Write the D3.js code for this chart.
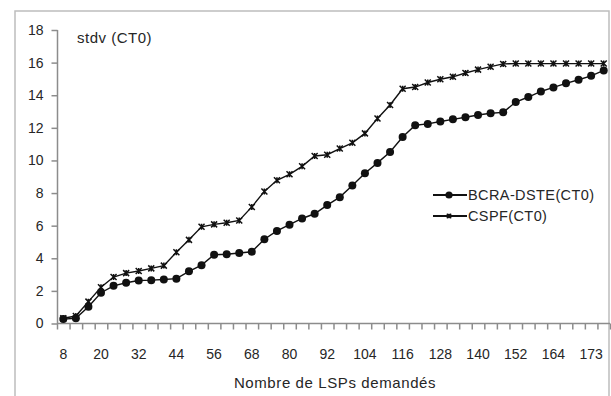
<!DOCTYPE html>
<html>
<head>
<meta charset="utf-8">
<script src="https://cdn.jsdelivr.net/npm/d3@7"></script>
<style>
  html, body { margin: 0; padding: 0; background: #fff; }
  svg { display: block; font-family: "Liberation Sans", Arial, sans-serif; }
</style>
</head>
<body>
<svg id="chart" width="611" height="396"></svg>
<script>
// Number of requested LSPs (category axis)
const categories = [
  "8","12","16","20","24","28","32","36","40","44","48","52","56","60","64",
  "68","72","76","80","84","88","92","96","100","104","108","112","116","120",
  "124","128","132","136","140","144","148","152","156","160","164","168","170",
  "173","176"
];

// Standard deviation, class type CT0
const bcraValues = [
  0.27, 0.32, 1.03, 1.89, 2.31, 2.50, 2.64, 2.66, 2.70, 2.75, 3.20, 3.58, 4.22, 4.25, 4.32,
  4.40, 5.17, 5.68, 6.06, 6.44, 6.73, 7.26, 7.75, 8.46, 9.22, 9.85, 10.52, 11.44, 12.16,
  12.24, 12.39, 12.52, 12.65, 12.79, 12.89, 12.95, 13.58, 13.89, 14.23, 14.48, 14.73, 14.95,
  15.19, 15.52
];
const cspfValues = [
  0.32, 0.46, 1.34, 2.22, 2.85, 3.09, 3.22, 3.38, 3.55, 4.37, 5.13, 5.93, 6.08, 6.18, 6.32,
  7.15, 8.10, 8.78, 9.15, 9.64, 10.27, 10.35, 10.73, 11.08, 11.66, 12.57, 13.40, 14.40, 14.50,
  14.78, 14.98, 15.13, 15.36, 15.57, 15.75, 15.92, 15.94, 15.94, 15.94, 15.94, 15.94, 15.94,
  15.94, 15.94
];

const yTicks = [0, 2, 4, 6, 8, 10, 12, 14, 16, 18];
const seriesNames = ["BCRA-DSTE(CT0)", "CSPF(CT0)"];
const yTitle = "stdv (CT0)";
const xTitle = "Nombre de LSPs demandés";

const svg = d3.select("#chart");
const axisColor = "#8c8c8c";
const inkColor = "#111";
const textColor = "#262626";

// outer chart frame
svg.append("rect")
  .attr("x", 15).attr("y", 11)
  .attr("width", 594).attr("height", 400)
  .attr("fill", "none")
  .attr("stroke", "#bdbdbd")
  .attr("stroke-width", 1.5);

const x = d3.scaleBand().domain(categories).range([57, 610]).padding(0);
const y = d3.scaleLinear().domain([0, 18]).range([323.5, 30]);
const cx = d => x(d) + x.bandwidth() / 2;

// y axis
const yAxis = svg.append("g")
  .attr("transform", "translate(57.5,0)")
  .call(d3.axisLeft(y).tickValues(yTicks).tickSize(6).tickPadding(8).tickFormat(d3.format("d")));
yAxis.select(".domain").attr("stroke", axisColor).attr("stroke-width", 1.5).attr("d", `M0,${y(18)}V${y(0)}`);
yAxis.selectAll(".tick line").attr("stroke", axisColor).attr("stroke-width", 1.5);
yAxis.selectAll(".tick text").attr("fill", textColor).style("font-size", "14px");

// x axis: tick marks sit on category boundaries, labels on every third category
const xAxis = svg.append("g").attr("transform", `translate(0,${y(0)})`);
xAxis.append("line")
  .attr("x1", 57).attr("x2", 610)
  .attr("stroke", axisColor).attr("stroke-width", 1.5);
xAxis.selectAll("line.tk")
  .data(categories.concat([null]))
  .join("line")
  .attr("class", "tk")
  .attr("x1", (d, i) => 57 + i * x.bandwidth() + 0.5)
  .attr("x2", (d, i) => 57 + i * x.bandwidth() + 0.5)
  .attr("y1", 0).attr("y2", 6)
  .attr("stroke", axisColor).attr("stroke-width", 1.5);
xAxis.selectAll("text")
  .data(categories.filter((d, i) => i % 3 === 0))
  .join("text")
  .attr("x", d => cx(d))
  .attr("y", 35)
  .attr("text-anchor", "middle")
  .attr("fill", textColor)
  .style("font-size", "14px")
  .text(d => d);

// titles
svg.append("text")
  .attr("x", 77).attr("y", 43)
  .attr("fill", textColor)
  .style("font-size", "15px")
  .style("letter-spacing", "0.5px")
  .text(yTitle);
svg.append("text")
  .attr("x", 335).attr("y", 388)
  .attr("text-anchor", "middle")
  .attr("fill", textColor)
  .style("font-size", "15px")
  .style("letter-spacing", "0.6px")
  .text(xTitle);

// star marker (x with a vertical bar)
function starPath(px, py, r) {
  return `M${px - r},${py - r}L${px + r},${py + r}M${px - r},${py + r}L${px + r},${py - r}M${px},${py - r}L${px},${py + r}`;
}

const line = d3.line().x((d, i) => cx(categories[i])).y(d => y(d));

// CSPF series
svg.append("path")
  .datum(cspfValues)
  .attr("d", line)
  .attr("fill", "none").attr("stroke", inkColor).attr("stroke-width", 1.4);
svg.append("g").selectAll("path")
  .data(cspfValues)
  .join("path")
  .attr("d", (d, i) => starPath(cx(categories[i]), y(d), 3))
  .attr("stroke", inkColor).attr("stroke-width", 1.5).attr("fill", "none");

// BCRA-DSTE series
svg.append("path")
  .datum(bcraValues)
  .attr("d", line)
  .attr("fill", "none").attr("stroke", inkColor).attr("stroke-width", 1.4);
svg.append("g").selectAll("circle")
  .data(bcraValues)
  .join("circle")
  .attr("cx", (d, i) => cx(categories[i]))
  .attr("cy", d => y(d))
  .attr("r", 4)
  .attr("fill", inkColor);

// legend
const legend = svg.append("g");
const legendRows = [
  { name: seriesNames[0], yy: 195, kind: "circle" },
  { name: seriesNames[1], yy: 216, kind: "star" }
];
legendRows.forEach(r => {
  legend.append("line")
    .attr("x1", 433).attr("x2", 467).attr("y1", r.yy).attr("y2", r.yy)
    .attr("stroke", inkColor).attr("stroke-width", 1.8);
  if (r.kind === "circle") {
    legend.append("circle").attr("cx", 449).attr("cy", r.yy).attr("r", 3.6).attr("fill", inkColor);
  } else {
    legend.append("path").attr("d", starPath(449, r.yy, 2.2))
      .attr("stroke", inkColor).attr("stroke-width", 1.4);
  }
  legend.append("text")
    .attr("x", 468).attr("y", r.yy + 5)
    .attr("fill", textColor)
    .style("font-size", "14.5px")
    .style("letter-spacing", "0.4px")
    .text(r.name);
});
</script>
</body>
</html>
